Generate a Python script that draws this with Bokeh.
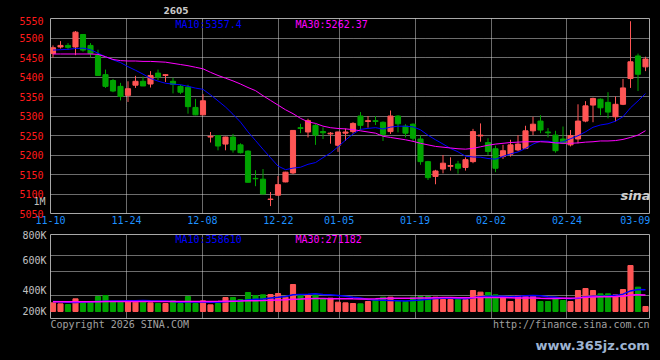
from bokeh.plotting import figure
from bokeh.layouts import column
from bokeh.models import FixedTicker, Label, Range1d, LinearAxis, ColumnDataSource
from bokeh.embed import file_html
from bokeh.resources import INLINE

# ---------------- data ----------------
date_tick_index = [0, 10, 20, 30, 38, 48, 58, 68, 77]
date_tick_labels = ["11-10", "11-24", "12-08", "12-22", "01-05", "01-19", "02-02", "02-24", "03-09"]

opens = [5460, 5477, 5481, 5477, 5509, 5481, 5455, 5406, 5391, 5376,
         5353, 5379, 5389, 5382, 5410, 5404, 5389, 5376, 5374, 5322,
         5303, 5246, 5250, 5228, 5246, 5226, 5210, 5140, 5138, 5086,
         5097, 5131, 5154, 5270, 5259, 5276, 5260, 5254, 5225, 5256,
         5260, 5300, 5286, 5288, 5284, 5260, 5300, 5274, 5279, 5241,
         5183, 5145, 5164, 5171, 5177, 5168, 5183, 5249, 5232, 5216,
         5196, 5202, 5213, 5217, 5262, 5287, 5259, 5251, 5241, 5226,
         5241, 5287, 5328, 5343, 5335, 5298, 5330, 5396, 5454, 5426]
highs = [5481, 5492, 5487, 5518, 5510, 5487, 5470, 5419, 5395, 5385,
         5389, 5403, 5401, 5415, 5419, 5407, 5398, 5380, 5380, 5344,
         5356, 5259, 5251, 5247, 5254, 5230, 5212, 5161, 5164, 5105,
         5146, 5157, 5264, 5280, 5293, 5280, 5271, 5259, 5260, 5268,
         5284, 5310, 5300, 5300, 5286, 5314, 5302, 5279, 5281, 5250,
         5185, 5162, 5200, 5194, 5185, 5194, 5267, 5281, 5243, 5224,
         5226, 5239, 5251, 5275, 5298, 5302, 5269, 5262, 5273, 5264,
         5330, 5338, 5347, 5345, 5361, 5350, 5395, 5543, 5460, 5452]
lows = [5450, 5473, 5470, 5456, 5465, 5450, 5404, 5372, 5361, 5340,
        5336, 5372, 5377, 5373, 5392, 5387, 5358, 5356, 5306, 5302,
        5302, 5232, 5212, 5212, 5206, 5204, 5130, 5120, 5099, 5069,
        5096, 5130, 5151, 5256, 5245, 5226, 5241, 5229, 5208, 5236,
        5255, 5264, 5270, 5277, 5236, 5254, 5258, 5245, 5236, 5175,
        5136, 5125, 5153, 5160, 5152, 5160, 5179, 5234, 5200, 5156,
        5190, 5196, 5210, 5215, 5251, 5256, 5245, 5206, 5228, 5222,
        5230, 5284, 5284, 5302, 5294, 5286, 5328, 5372, 5364, 5415]
closes = [5475, 5481, 5476, 5515, 5469, 5460, 5404, 5376, 5364, 5350,
          5370, 5389, 5377, 5404, 5400, 5406, 5381, 5361, 5324, 5303,
          5339, 5248, 5223, 5246, 5213, 5206, 5130, 5139, 5100, 5087,
          5124, 5156, 5263, 5268, 5288, 5251, 5257, 5256, 5259, 5259,
          5281, 5276, 5288, 5286, 5253, 5300, 5280, 5256, 5243, 5183,
          5142, 5159, 5179, 5173, 5166, 5188, 5260, 5251, 5209, 5166,
          5211, 5226, 5228, 5262, 5279, 5264, 5257, 5211, 5230, 5250,
          5287, 5326, 5345, 5321, 5310, 5330, 5372, 5439, 5407, 5446]
ma10 = [5469, 5470, 5471, 5473, 5474, 5470, 5461, 5452, 5444, 5437.0,
        5426.5, 5417.3, 5407.4, 5396.3, 5389.4, 5384.0, 5381.7, 5380.2, 5376.2, 5371.5,
        5368.4, 5354.3, 5338.9, 5323.1, 5304.4, 5284.4, 5259.3, 5237.1, 5214.7, 5193.1,
        5171.6, 5162.4, 5166.4, 5168.6, 5176.1, 5180.6, 5193.3, 5205.0, 5220.9, 5238.1,
        5253.8, 5265.8, 5268.3, 5270.1, 5266.6, 5271.5, 5273.8, 5273.8, 5272.2, 5264.6,
        5250.7, 5239.0, 5228.1, 5216.8, 5208.1, 5196.9, 5194.9, 5194.4, 5191.0, 5189.3,
        5196.2, 5202.9, 5207.8, 5216.7, 5228.0, 5235.6, 5235.3, 5231.3, 5233.4, 5241.8,
        5249.4, 5259.4, 5271.1, 5277.0, 5280.1, 5286.7, 5298.2, 5321.0, 5338.7, 5357.4]
ma30 = [5459, 5459, 5459, 5459, 5459, 5459, 5458, 5452, 5445, 5442,
        5441, 5441, 5440, 5440, 5439, 5438, 5435, 5432, 5429, 5425,
        5421, 5412, 5404, 5397, 5390, 5382, 5373, 5365, 5352, 5340,
        5328, 5316, 5306, 5294, 5285, 5281, 5274, 5270, 5268, 5267,
        5265, 5262, 5259, 5256, 5248, 5245, 5242, 5239, 5235, 5230,
        5226, 5222, 5220, 5218, 5216, 5215, 5217, 5221, 5225, 5228,
        5230, 5232, 5233, 5234, 5234, 5234, 5233, 5231, 5230, 5230,
        5231, 5233, 5234, 5236, 5236, 5237, 5240, 5245, 5251, 5262.37]
volume = [143000, 126500, 115500, 209000, 143000, 154000, 247500, 264000, 165000, 154000,
          176000, 154000, 154000, 143000, 132000, 132000, 176000, 132000, 247500, 132000,
          176000, 110000, 132000, 231000, 231000, 198000, 313500, 264000, 275000, 280500,
          297000, 236500, 445500, 275000, 264000, 275000, 209000, 220000, 154000, 143000,
          132000, 126500, 165000, 198000, 236500, 236500, 165000, 165000, 236500, 247500,
          247500, 236500, 198000, 198000, 198000, 198000, 346500, 319000, 313500, 275000,
          236500, 165000, 264000, 264000, 264000, 165000, 165000, 220000, 181500, 165000,
          346500, 379500, 346500, 291500, 291500, 275000, 363000, 759000, 401500, 82500]
vol_ma10 = [165000, 160000, 152000, 150000, 155000, 160000, 165000, 170000, 172000, 172200,
            175500, 178200, 182100, 175500, 174400, 172200, 165000, 151800, 160100, 157900,
            157900, 153500, 151300, 160100, 170000, 176600, 190300, 203500, 206300, 221100,
            233200, 245900, 277200, 281600, 284900, 292600, 282200, 277800, 265700, 251900,
            235400, 224400, 196400, 188700, 185900, 182100, 177700, 172200, 180400, 190900,
            202400, 213400, 216700, 216700, 212900, 209000, 227200, 242600, 250300, 253000,
            251900, 244800, 251400, 258000, 264600, 261300, 243100, 233200, 220000, 209000,
            220000, 241500, 249700, 252500, 255200, 266200, 286000, 339900, 361900, 358610]
vol_ma30 = [160000, 160000, 159000, 160000, 160000, 161000, 162000, 163000, 163000, 163000,
            164000, 164000, 164000, 164000, 164000, 164000, 165000, 165000, 166000, 166000,
            167000, 167000, 168000, 170000, 171000, 173000, 176000, 178000, 180000, 184000,
            188800, 192500, 203500, 205700, 209700, 213800, 212500, 211000, 210700, 210300,
            208800, 207900, 208300, 210100, 213600, 217100, 216700, 217800, 217400, 221300,
            223700, 227900, 230100, 229000, 227900, 227900, 229000, 230800, 232100, 231900,
            229900, 227500, 221500, 221100, 221100, 217400, 216000, 216000, 216900, 217600,
            224800, 233200, 239300, 242400, 244200, 245500, 252100, 271900, 277400, 271182]
price_ticks = [5050, 5100, 5150, 5200, 5250, 5300, 5350, 5400, 5450, 5500, 5550]
vol_tick_labels = ["800K", "600K", "400K", "200K"]
period_label = "1M"
contract_label = "2605"

# ---------------- styling ----------------
UP = "#ff5555"
DOWN = "#00a400"
GRID = "#d8d8d8"
BORDER = "#a8a8a8"
MONO = "DejaVu Sans Mono"

n = len(closes)
idx = list(range(n))
colors = [UP if c >= o else DOWN for o, c in zip(opens, closes)]
body_top = [max(o, c) for o, c in zip(opens, closes)]
body_bot = [min(o, c) for o, c in zip(opens, closes)]

src = ColumnDataSource(dict(x=idx, o=opens, h=highs, l=lows, c=closes, top=body_top, bot=body_bot,
                            color=colors, ma10=ma10, ma30=ma30, vol=volume,
                            vma10=vol_ma10, vma30=vol_ma30))

xr = Range1d(-1.0 / 3.0, 79.5333)
grid_step = 7.595 / 7.5
tick_pos = [round(-1.0 / 3.0 + k * grid_step, 4) for k in date_tick_index]


def style(p):
    p.background_fill_color = "black"
    p.border_fill_color = "black"
    p.outline_line_color = BORDER
    p.outline_line_width = 1
    p.outline_line_alpha = 1.0


def style_axis(ax, col, standoff):
    ax.axis_line_color = None
    ax.major_tick_line_color = None
    ax.minor_tick_line_color = None
    ax.major_tick_out = 0
    ax.major_tick_in = 0
    ax.major_label_standoff = standoff
    ax.major_label_text_color = col
    ax.major_label_text_font = MONO
    ax.major_label_text_font_size = "10px"


def add_text(p, text, xs, ys, color, size="10px", align="left", font=MONO, style_="normal", units="screen"):
    p.add_layout(Label(x=xs, y=ys, x_units=units, y_units=units, text=text,
                       text_color=color, text_font_size=size, text_align=align,
                       text_baseline="middle", text_font=font, text_font_style=style_))


def strip(height):
    # frame spans page x 50..649 (aligned with the chart frames); x data = page pixel
    s = figure(width=660, height=height, x_range=Range1d(50, 649), y_range=Range1d(0, height),
               output_backend="svg", toolbar_location=None, x_axis_location=None, y_axis_location=None,
               min_border_left=50, min_border_right=11, min_border_top=0, min_border_bottom=0)
    s.background_fill_color = "black"
    s.border_fill_color = "black"
    s.outline_line_color = None
    s.grid.visible = False
    return s


# ---------------- top strip ----------------
top = strip(16)
add_text(top, contract_label, 175.5, 6.5, "#c8c8c8", size="9px", align="center",
         font="DejaVu Sans", style_="bold", units="data")

# ---------------- price panel ----------------
p = figure(width=660, height=213, x_range=xr, y_range=Range1d(5050, 5550),
           output_backend="svg", toolbar_location=None, y_axis_location=None,
           min_border_left=50, min_border_right=11, min_border_top=2, min_border_bottom=16)
style(p)

p.ygrid.ticker = FixedTicker(ticks=price_ticks[1:-1])
p.xgrid.ticker = FixedTicker(ticks=tick_pos[1:-1])
for g in (p.xgrid, p.ygrid):
    g.grid_line_color = GRID
    g.grid_line_dash = "1 1"
    g.grid_line_width = 1

# inner left axis: period marker; outer left axis: prices (pulled back beside the frame)
period_value = 5082
ax_period = LinearAxis(ticker=FixedTicker(ticks=[period_value]),
                       major_label_overrides={period_value: period_label})
style_axis(ax_period, "#c0c0c0", 5)
p.add_layout(ax_period, "left")
ax_price = LinearAxis(ticker=FixedTicker(ticks=price_ticks))
style_axis(ax_price, "#ff1a1a", -13)
p.add_layout(ax_price, "left")

p.xaxis.ticker = FixedTicker(ticks=tick_pos)
p.xaxis.major_label_overrides = {tp: lab for tp, lab in zip(tick_pos, date_tick_labels)}
style_axis(p.xaxis[0], "#1e90ff", 2)

p.segment(x0="x", y0="l", x1="x", y1="h", color="color", line_width=1, source=src)
p.vbar(x="x", width=0.68, top="top", bottom="bot", fill_color="color", line_color="color",
       line_width=1, source=src)
p.line("x", "ma10", color="#0000ff", line_width=1, source=src)
p.line("x", "ma30", color="#ff00ff", line_width=1, source=src)

add_text(p, "MA10:%s" % ma10[-1], 125, 189.5, "#0000ff")
add_text(p, "MA30:%s" % ma30[-1], 245, 189.5, "#ff00ff")
add_text(p, "sina", 585, 18, "#cfcfcf", size="13px", align="center", font="DejaVu Sans", style_="bold italic")

# ---------------- volume panel ----------------
pv = figure(width=660, height=90, x_range=xr, y_range=Range1d(-115500, 1270500),
            output_backend="svg", toolbar_location=None, x_axis_location=None,
            min_border_left=50, min_border_right=11, min_border_top=5, min_border_bottom=1)
style(pv)
pv.ygrid.ticker = FixedTicker(ticks=[924000, 660000, 264000])
pv.xgrid.ticker = FixedTicker(ticks=tick_pos[1:-1])
for g in (pv.xgrid, pv.ygrid):
    g.grid_line_color = GRID
    g.grid_line_dash = "1 1"
    g.grid_line_width = 1

vol_tick_pos = [1265000, 836500, 341500, 0]
pv.yaxis.ticker = FixedTicker(ticks=vol_tick_pos)
pv.yaxis.major_label_overrides = {tp: lab for tp, lab in zip(vol_tick_pos, vol_tick_labels)}
style_axis(pv.yaxis[0], "#c0c0c0", 4)

pv.vbar(x="x", width=0.68, top="vol", bottom=0, fill_color="color", line_color="color",
        line_width=1, source=src)
pv.line("x", "vma10", color="#0000ff", line_width=1.5, source=src)
pv.line("x", "vma30", color="#ff00ff", line_width=1.5, source=src)

add_text(pv, "MA10:%d" % vol_ma10[-1], 125, 79.5, "#0000ff")
add_text(pv, "MA30:%d" % vol_ma30[-1], 245, 79.5, "#ff00ff")

# ---------------- bottom strip ----------------
bottom = strip(41)
add_text(bottom, "Copyright 2026 SINA.COM", 50, 36.5, "#a0a0a0", units="data")
add_text(bottom, "http://finance.sina.com.cn", 649, 36.5, "#a0a0a0", align="right", units="data")
add_text(bottom, "www.365jz.com", 535, 15, "#9db3d1", size="13px", font="DejaVu Sans",
         style_="bold", units="data")

layout = column(top, p, pv, bottom, spacing=0)
layout.background = "black"

html = file_html(layout, INLINE)
html = html.replace("<body>", '<body style="background-color:#000000;">', 1)
open("out.html", "w").write(html)
